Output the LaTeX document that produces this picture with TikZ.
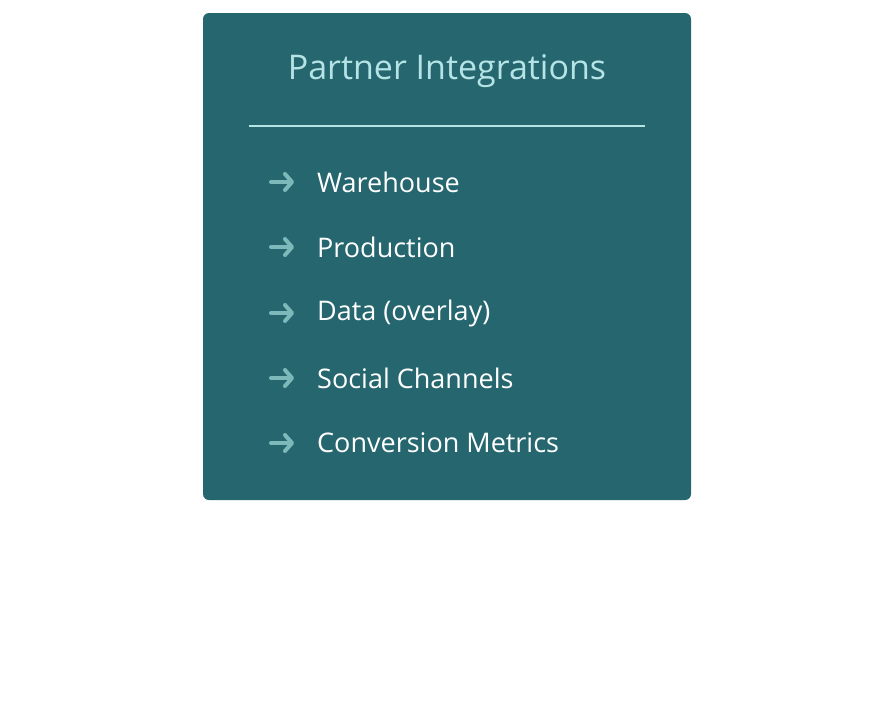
\documentclass[tikz,border=0pt]{standalone}
\usepackage{fontspec}
\setmainfont{Open Sans}
\usetikzlibrary{arrows.meta,positioning}
\definecolor{panel}{HTML}{26666F}
\definecolor{titlecol}{HTML}{B5E4E6}
\definecolor{tipcol}{HTML}{7DB9BA}
\tikzset{
  itemlabel/.style={anchor=west, text=white, font=\fontsize{27}{30}\selectfont, inner sep=0pt},
  itemarrow/.style={tipcol, line width=4pt, line cap=round, -{Straight Barb[length=7pt,width=16pt,line cap=round,line join=round]}}
}
\begin{document}
\begin{tikzpicture}[x=1pt,y=-1pt]
  \useasboundingbox (0,0) rectangle (894,710);
  \fill[panel, rounded corners=6pt] (203,13) rectangle (691,500);
  \node[text=titlecol, font=\fontsize{34}{38}\selectfont] (title) at (447,71) {Partner Integrations};
  \draw[titlecol, line width=2.5pt] (249,126) -- (645,126);
  \foreach \ypos/\txt [count=\k] in {182/Warehouse, 247/Production, 313/Data (overlay), 378/Social Channels, 443/Conversion Metrics} {
    \coordinate (a\k) at (271,\ypos);
    \coordinate (b\k) at (294,\ypos);
    \draw[itemarrow] (a\k) -- (b\k);
    \node[itemlabel] (item\k) at (317,\ypos) {\txt};
  }
\end{tikzpicture}
\end{document}
